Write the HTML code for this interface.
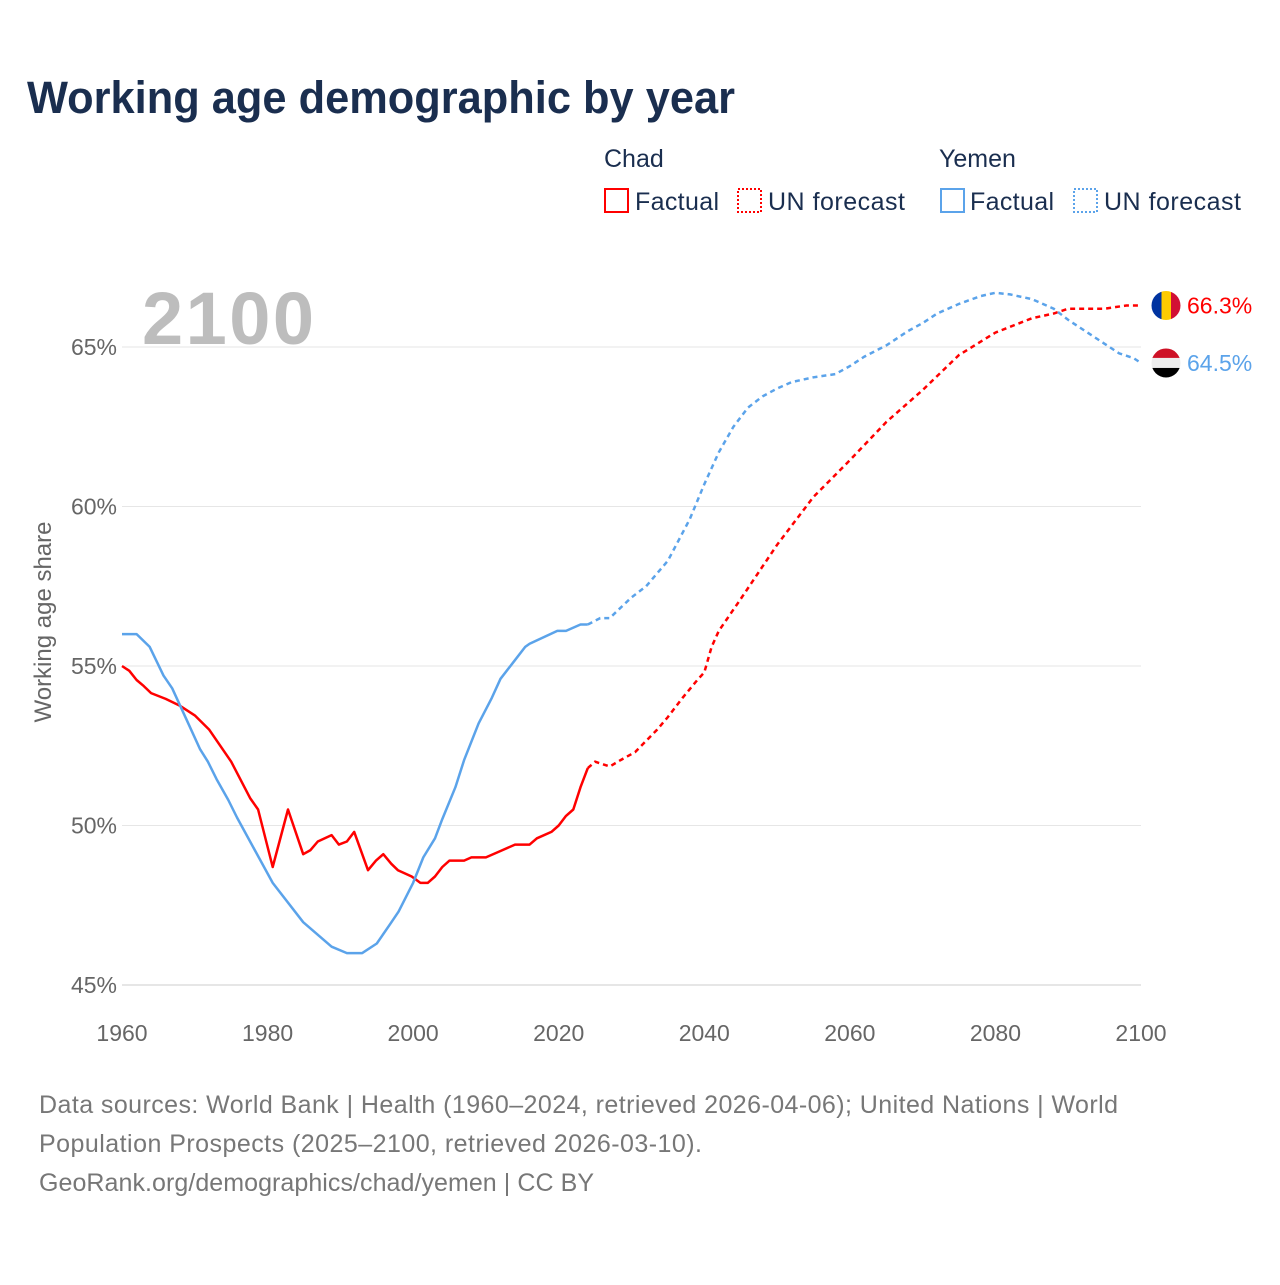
<!DOCTYPE html>
<html><head><meta charset="utf-8"><style>
body{margin:0;background:#fff;width:1280px;height:1280px;overflow:hidden;font-family:"Liberation Sans",sans-serif;}
svg text{font-family:"Liberation Sans",sans-serif;}
</style></head><body>
<svg id="chart" width="1280" height="1280">
<text x="27" y="113" font-size="45" font-weight="bold" fill="#1a2e4f" textLength="708" lengthAdjust="spacingAndGlyphs">Working age demographic by year</text>
<g>
<text x="604" y="167" font-size="25" fill="#1a2e4f">Chad</text>
<rect x="605" y="189" width="23" height="23" fill="none" stroke="#ff0000" stroke-width="2"/>
<text x="635" y="210" font-size="25" fill="#1a2e4f" textLength="84">Factual</text>
<rect x="738" y="189" width="23" height="23" fill="none" stroke="#ff0000" stroke-width="2" stroke-dasharray="2,2"/>
<text x="768" y="210" font-size="25" fill="#1a2e4f" textLength="137">UN forecast</text>
<text x="939" y="167" font-size="25" fill="#1a2e4f">Yemen</text>
<rect x="941" y="189" width="23" height="23" fill="none" stroke="#5ba3ea" stroke-width="2"/>
<text x="970" y="210" font-size="25" fill="#1a2e4f" textLength="84">Factual</text>
<rect x="1074" y="189" width="23" height="23" fill="none" stroke="#5ba3ea" stroke-width="2" stroke-dasharray="2,2"/>
<text x="1104" y="210" font-size="25" fill="#1a2e4f" textLength="137">UN forecast</text>
</g>
<text x="142" y="344" font-size="74" font-weight="bold" fill="#bdbdbd" textLength="172">2100</text>
<text transform="translate(51,622) rotate(-90)" text-anchor="middle" font-size="24" fill="#666">Working age share</text>
<g id="grid"></g><g id="lines"></g>
<g font-size="25" fill="#777">
<text x="39" y="1113" textLength="1079">Data sources: World Bank | Health (1960–2024, retrieved 2026-04-06); United Nations | World</text>
<text x="39" y="1152" textLength="663">Population Prospects (2025–2100, retrieved 2026-03-10).</text>
<text x="39" y="1191" textLength="555">GeoRank.org/demographics/chad/yemen | CC BY</text>
</g>
</svg>
<script>
const yTicks=[45,50,55,60,65];
const xTicks=[1960,1980,2000,2020,2040,2060,2080,2100];
const chadYears=[1960,1961,1962,1963,1964,1966,1968,1970,1972,1975,1977.6,1978.7,1980.7,1982.8,1984.9,1985.9,1986.9,1988.8,1989.8,1990.9,1991.9,1993.8,1994.9,1995.9,1997,1997.9,1999.8,2001,2002,2003,2004,2005,2007,2008,2010,2012,2014,2016,2017,2019,2020,2021,2022,2023,2024,2025,2027,2028.5,2030.5,2033.5,2035,2037,2039,2040,2041,2042,2045,2050,2055,2060,2065,2070,2075,2080,2085,2088,2090,2095,2098,2100];
const chadVals=[55.0,54.85,54.56,54.37,54.15,53.97,53.75,53.45,53.0,52.0,50.86,50.5,48.7,50.5,49.1,49.23,49.5,49.7,49.4,49.5,49.8,48.6,48.9,49.1,48.8,48.6,48.4,48.2,48.2,48.4,48.7,48.9,48.9,49.0,49.0,49.2,49.4,49.4,49.6,49.8,50.0,50.3,50.5,51.2,51.8,52.0,51.85,52.05,52.3,53.0,53.4,54.0,54.55,54.8,55.6,56.1,57.1,58.8,60.3,61.45,62.65,63.65,64.75,65.45,65.9,66.05,66.2,66.2,66.3,66.3];
const chadForecastFrom=2024;
const yemYears=[1960,1962,1963.8,1965.7,1966.9,1968.9,1970.7,1971.8,1973,1974.6,1975.8,1980.7,1984.9,1988.8,1990.9,1993,1995,1996.8,1998,2000,2001.4,2003,2004,2005.8,2007,2009,2010.8,2012,2013.7,2015.4,2016,2019.8,2021,2023,2024,2025.7,2027,2030,2032,2035,2038,2040,2042,2044,2046,2048,2050,2052,2055,2058,2060,2062,2065,2068,2070,2072,2075,2078,2080,2082,2085,2088,2090,2093,2095,2097,2099,2100];
const yemVals=[56.0,56.0,55.6,54.7,54.3,53.3,52.4,52.0,51.45,50.8,50.25,48.2,46.97,46.2,46.0,46.0,46.3,46.9,47.3,48.2,49.0,49.6,50.2,51.2,52.05,53.2,54.0,54.6,55.1,55.6,55.7,56.1,56.1,56.3,56.3,56.5,56.5,57.15,57.5,58.3,59.6,60.7,61.7,62.5,63.1,63.45,63.7,63.9,64.05,64.15,64.4,64.7,65.05,65.5,65.75,66.05,66.35,66.6,66.7,66.65,66.5,66.2,65.85,65.4,65.1,64.8,64.65,64.5];
const yemForecastFrom=2024;
const NS='http://www.w3.org/2000/svg';
const X=yr=>122+(yr-1960)*(1141-122)/140;
const Y=v=>985-(v-45)*(985-347)/20;
const grid=document.getElementById('grid'),lines=document.getElementById('lines');
function mk(tag,attrs,parent){const e=document.createElementNS(NS,tag);for(const k in attrs)e.setAttribute(k,attrs[k]);parent.appendChild(e);return e;}
yTicks.forEach(t=>{
 const l=mk('line',{x1:122,x2:1141,y1:Y(t),y2:Y(t),stroke:t===45?'#ccc':'#e6e6e6','stroke-width':1},grid);
 
 
 const tx=mk('text',{x:117,y:Y(t)+8,'text-anchor':'end','font-size':23,fill:'#666'},grid);
 tx.textContent=t+'%';
 
 
});
xTicks.forEach(t=>{
 const tx=mk('text',{x:X(t),y:1041,'text-anchor':'middle','font-size':23,fill:'#666'},grid);
 tx.textContent=t;
 
 
});
function series(years,vals,split,color,name){
 const a=[],b=[];
 years.forEach((yr,i)=>{const p=X(yr).toFixed(1)+','+Y(vals[i]).toFixed(1);if(yr<=split)a.push(p);if(yr>=split)b.push(p);});
 const p1=mk('polyline',{points:a.join(' '),fill:'none',stroke:color,'stroke-width':2.5,'stroke-linejoin':'round'},lines);
 
 
 const p2=mk('polyline',{points:b.join(' '),fill:'none',stroke:color,'stroke-width':2.5,'stroke-dasharray':'5,4'},lines);
 
 
}
series(chadYears,chadVals,chadForecastFrom,'#ff0000','chad');
series(yemYears,yemVals,yemForecastFrom,'#5ba3ea','yemen');
const cy=Y(chadVals[chadVals.length-1]),yy=Y(yemVals[yemVals.length-1]);
const fc=mk('g',{},lines);


const cp1=mk('clipPath',{id:'cc'},fc);mk('circle',{cx:1166,cy:cy,r:14.5},cp1);
mk('rect',{x:1151.5,y:cy-15,width:10,height:30,fill:'#0033a0','clip-path':'url(#cc)'},fc);
mk('rect',{x:1161.5,y:cy-15,width:9.5,height:30,fill:'#fecb00','clip-path':'url(#cc)'},fc);
mk('rect',{x:1171,y:cy-15,width:10,height:30,fill:'#d21034','clip-path':'url(#cc)'},fc);
const fy=mk('g',{},lines);


const cp=mk('clipPath',{id:'cy'},fy);mk('circle',{cx:1166,cy:yy,r:14.5},cp);
mk('rect',{x:1151,y:yy-15,width:30,height:10,fill:'#ce1126','clip-path':'url(#cy)'},fy);
mk('rect',{x:1151,y:yy-5,width:30,height:10,fill:'#eeeeee','clip-path':'url(#cy)'},fy);
mk('rect',{x:1151,y:yy+5,width:30,height:10,fill:'#000','clip-path':'url(#cy)'},fy);
const lc=mk('text',{x:1187,y:cy+8,'font-size':23,fill:'#ff0000'},lines);
lc.textContent=chadVals[chadVals.length-1].toFixed(1)+'%';


const ly=mk('text',{x:1187,y:yy+8,'font-size':23,fill:'#5ba3ea'},lines);
ly.textContent=yemVals[yemVals.length-1].toFixed(1)+'%';


</script>
</body></html>
